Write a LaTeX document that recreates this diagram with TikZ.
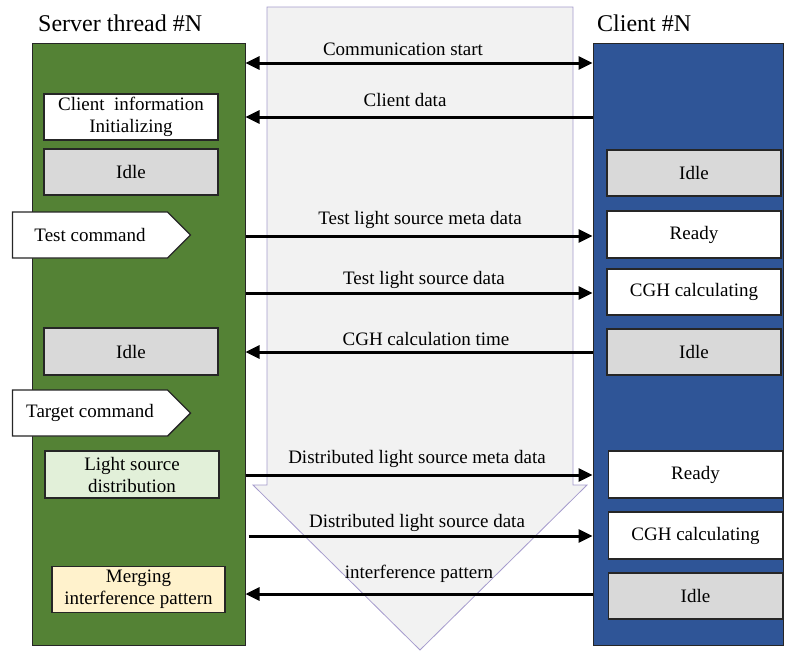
\documentclass[tikz,border=0pt]{standalone}
\usepackage{fontspec}
\setmainfont{Liberation Serif}
\usetikzlibrary{arrows.meta,shapes.symbols}
\definecolor{DistGreen}{RGB}{84,130,53}
\definecolor{DistBlue}{RGB}{47,85,151}
\definecolor{DistGray}{RGB}{217,217,217}
\definecolor{DistLightGreen}{RGB}{226,240,217}
\definecolor{DistCream}{RGB}{255,242,204}
\definecolor{DistPipe}{RGB}{242,242,242}
\definecolor{DistLilac}{RGB}{165,155,205}
\definecolor{DistEdge}{RGB}{38,38,38}
\tikzset{
  dist/column/.style={
    draw=DistEdge,
    line width=1pt,
    minimum height=602pt,
    inner sep=0pt
  },
  dist/box/.style={
    draw=DistEdge,
    line width=1.4pt,
    fill=white,
    align=center,
    minimum width=174pt,
    minimum height=46pt,
    inner sep=2pt,
    font=\fontsize{19}{22}\selectfont
  },
  dist/idle/.style={dist/box, fill=DistGray},
  dist/cmd/.style={
    signal,
    signal to=east,
    draw=DistEdge,
    line width=1.4pt,
    fill=white,
    minimum width=178pt,
    minimum height=46pt,
    inner sep=2pt,
    font=\fontsize{19}{22}\selectfont
  },
  dist/msg/.style={font=\fontsize{19}{22}\selectfont, anchor=base, inner sep=0pt},
  dist/title/.style={font=\fontsize{24}{28}\selectfont, anchor=base west, inner sep=0pt},
  dist/arrow/.style={-{Triangle[length=14pt,width=13pt]}, line width=3pt},
  dist/twoway/.style={{Triangle[length=14pt,width=13pt]}-{Triangle[length=14pt,width=13pt]}, line width=3pt},
  dist/pipe/.style={fill=DistPipe, draw=DistLilac, line width=0.8pt}
}
\begin{document}
\begin{tikzpicture}[x=1pt,y=-1pt]
  \useasboundingbox (0,0) rectangle (786,651);
  % time flows downwards
  \draw[dist/pipe] (267,7) -- (573,7) -- (573,485) -- (587,485) -- (420,650)
    -- (253,485) -- (267,485) -- cycle;

  \node[dist/title] (srvtitle) at (38,31) {Server thread \#N};
  \node[dist/title] (clititle) at (597,31) {Client \#N};
  \node[dist/column,fill=DistGreen,minimum width=213pt] (server) at (138.5,344) {};
  \node[dist/column,fill=DistBlue,minimum width=190pt] (client) at (688,344) {};

  % server side
  \node[dist/box] (sinit) at (131,117) {Client~~information\\Initializing};
  \node[dist/idle] (sidle1) at (131,172) {Idle};
  \node[dist/cmd] (cmdtest) at (90,235) {Test command};
  \node[dist/idle,minimum height=47pt] (sidle2) at (131,351.5) {Idle};
  \node[dist/cmd] (cmdtarget) at (90,413) {Target command};
  \node[dist/box,fill=DistLightGreen,minimum height=47pt] (slight) at (132,474.5) {Light source\\distribution};
  \node[dist/box,fill=DistCream,minimum width=173pt] (smerge) at (138.5,589.5) {Merging\\interference pattern};

  % client side
  \node[dist/idle] (cidle1) at (694,173) {Idle};
  \node[dist/box,minimum height=47pt] (cready1) at (694,234.5) {Ready};
  \node[dist/box] (ccgh1) at (694,292) {CGH calculating};
  \node[dist/idle] (cidle2) at (694,352) {Idle};
  \node[dist/box,minimum height=47pt] (cready2) at (695.5,474.5) {Ready};
  \node[dist/box,minimum height=47pt] (ccgh2) at (695.5,535.5) {CGH calculating};
  \node[dist/idle] (cidle3) at (695.5,596) {Idle};

  % messages
  \coordinate (a1) at (420,63);
  \coordinate (a2) at (420,117);
  \coordinate (a3) at (420,236);
  \coordinate (a4) at (420,293);
  \coordinate (a5) at (420,352);
  \coordinate (a6) at (420,475);
  \coordinate (a7) at (420,536);
  \coordinate (a8) at (420,594);
  \node[dist/msg] (m1) at (403,55) {Communication start};
  \node[dist/msg] (m2) at (405,106) {Client data};
  \node[dist/msg] (m3) at (420,224) {Test light source meta data};
  \node[dist/msg] (m4) at (424,284) {Test light source data};
  \node[dist/msg] (m5) at (426,345) {CGH calculation time};
  \node[dist/msg] (m6) at (417,463) {Distributed light source meta data};
  \node[dist/msg] (m7) at (417,527) {Distributed light source data};
  \node[dist/msg] (m8) at (419,578) {interference pattern};
  \draw[dist/twoway] (server.east |- a1) -- (client.west |- a1);
  \draw[dist/arrow] (client.west |- a2) -- (server.east |- a2);
  \draw[dist/arrow] (server.east |- a3) -- (client.west |- a3);
  \draw[dist/arrow] (server.east |- a4) -- (client.west |- a4);
  \draw[dist/arrow] (client.west |- a5) -- (server.east |- a5);
  \draw[dist/arrow] (server.east |- a6) -- (client.west |- a6);
  \draw[dist/arrow,shorten <=3pt] (server.east |- a7) -- (client.west |- a7);
  \draw[dist/arrow] (client.west |- a8) -- (server.east |- a8);
\end{tikzpicture}
\end{document}
